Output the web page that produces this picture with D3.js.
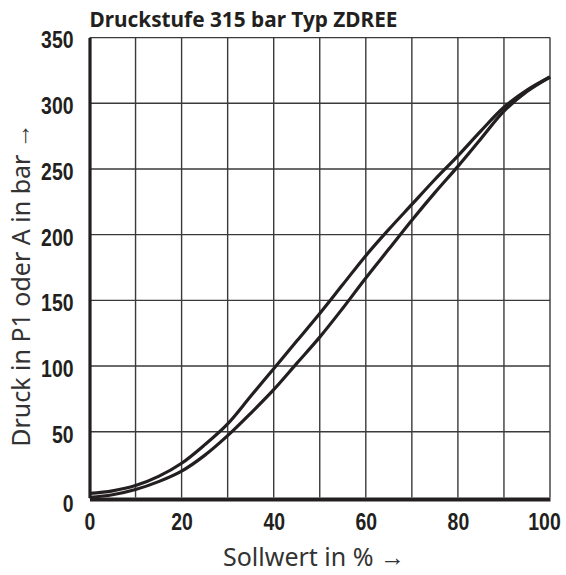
<!DOCTYPE html>
<html lang="de">
<head>
    <meta charset="UTF-8">
    <title>Druckstufe 315 bar Typ ZDREE</title>
    <script src="https://cdnjs.cloudflare.com/ajax/libs/d3/7.8.5/d3.min.js"></script>
    <style>
        body { margin: 0; background: #fff; }
    </style>
</head>
<body>
<svg width="566" height="575"></svg>
<script>
    // Sollwert in %
    const sollwert = [0, 5, 10, 15, 20, 25, 30, 35, 40, 45, 50, 55, 60, 65, 70, 75, 80, 85, 90, 95, 100];
    // rising curve (left / upper branch)
    const druckOben = [3, 5, 9, 16, 26, 40, 56, 77, 98, 119, 140, 162, 184, 204, 223, 242, 260, 279, 297, 310, 320];
    // falling curve (right / lower branch)
    const druckUnten = [0, 2, 6, 12, 20, 32, 47, 64, 82, 102, 122, 144, 167, 189, 211, 232, 252, 273, 294, 309, 320];

    const xTicks = [0, 20, 40, 60, 80, 100];
    const xGrid = [10, 20, 30, 40, 50, 60, 70, 80, 90, 100];
    const yTicks = [0, 50, 100, 150, 200, 250, 300, 350];

    const margin = {left: 89.5, right: 16, top: 37.6, bottom: 77.6};
    const W = 566, H = 575;

    const x = d3.scaleLinear().domain([0, 100]).range([margin.left, W - margin.right]);
    const y = d3.scaleLinear().domain([0, 350]).range([H - margin.bottom, margin.top]);

    const svg = d3.select('svg');
    const ink = '#231f20';
    const gridCol = '#3a3a3a';
    const tickFont = '"Liberation Sans Narrow", "Liberation Sans", Arial, sans-serif';
    const textFont = '"Noto Sans", "Open Sans", sans-serif';
    const digitW = 10.8; // narrow bold digits

    // grid
    svg.append('g')
        .selectAll('line')
        .data(xGrid)
        .join('line')
        .attr('x1', d => x(d)).attr('x2', d => x(d))
        .attr('y1', y(0)).attr('y2', y(350))
        .attr('stroke', gridCol).attr('stroke-width', 1.4);

    svg.append('g')
        .selectAll('line')
        .data(yTicks.filter(d => d > 0))
        .join('line')
        .attr('x1', x(0)).attr('x2', x(100))
        .attr('y1', d => y(d)).attr('y2', d => y(d))
        .attr('stroke', gridCol).attr('stroke-width', 1.4);

    // axes (thick left and bottom lines)
    const yAxis = svg.append('g')
        .attr('transform', `translate(${x(0)},0)`)
        .call(d3.axisLeft(y).tickValues(yTicks).tickSize(0).tickPadding(16));
    yAxis.select('.domain').attr('stroke', ink).attr('stroke-width', 3.2);
    yAxis.selectAll('text')
        .attr('font-family', tickFont)
        .attr('font-weight', 'bold')
        .attr('font-size', 23)
        .attr('fill', ink)
        .attr('dy', d => d === 0 ? '0.6em' : '0.45em')
        .attr('textLength', d => String(d).length * digitW)
        .attr('lengthAdjust', 'spacingAndGlyphs');

    const xAxis = svg.append('g')
        .attr('transform', `translate(0,${y(0) + 1.5})`)
        .call(d3.axisBottom(x).tickValues(xTicks).tickSize(0).tickPadding(15));
    xAxis.select('.domain').attr('stroke', ink).attr('stroke-width', 4);
    xAxis.selectAll('text')
        .attr('font-family', tickFont)
        .attr('font-weight', 'bold')
        .attr('font-size', 23)
        .attr('fill', ink)
        .attr('dx', d => d === 100 ? -6 : 0)
        .attr('textLength', d => String(d).length * digitW)
        .attr('lengthAdjust', 'spacingAndGlyphs');

    // curves
    const line = d3.line()
        .x((d, i) => x(sollwert[i]))
        .y(d => y(d))
        .curve(d3.curveCatmullRom.alpha(0.5));

    [druckOben, druckUnten].forEach(series => {
        svg.append('path')
            .attr('d', line(series))
            .attr('fill', 'none')
            .attr('stroke', ink)
            .attr('stroke-width', 3.2);
    });

    // titles
    svg.append('text')
        .attr('x', x(0))
        .attr('y', 27)
        .attr('font-family', textFont)
        .attr('font-weight', 'bold')
        .attr('font-size', 22)
        .attr('fill', ink)
        .attr('textLength', 308)
        .attr('lengthAdjust', 'spacingAndGlyphs')
        .text('Druckstufe 315 bar Typ ZDREE');

    svg.append('text')
        .attr('x', 314)
        .attr('y', 566)
        .attr('text-anchor', 'middle')
        .attr('font-family', textFont)
        .attr('font-size', 25)
        .attr('fill', '#333')
        .text('Sollwert in % →');

    svg.append('text')
        .attr('transform', 'translate(30,285) rotate(-90)')
        .attr('text-anchor', 'middle')
        .attr('font-family', textFont)
        .attr('font-size', 25)
        .attr('fill', '#333')
        .text('Druck in P1 oder A in bar →');
</script>
</body>
</html>
